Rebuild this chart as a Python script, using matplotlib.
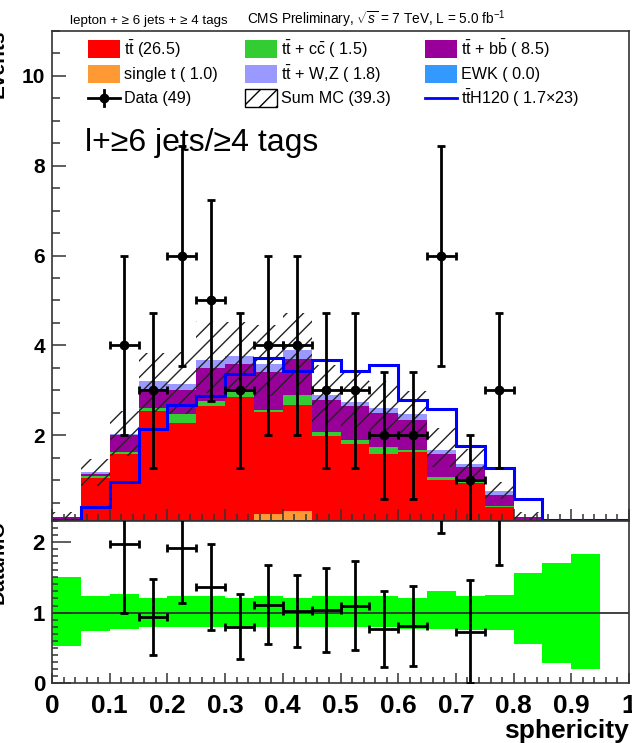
import numpy as np
import matplotlib
matplotlib.use('Agg')
import matplotlib.pyplot as plt
from matplotlib.patches import Rectangle
from matplotlib.lines import Line2D
from matplotlib.ticker import MultipleLocator

plt.rcParams['font.family'] = ['Liberation Sans', 'DejaVu Sans']
plt.rcParams['mathtext.fontset'] = 'custom'
plt.rcParams['mathtext.rm'] = 'Liberation Sans'
plt.rcParams['mathtext.it'] = 'Liberation Sans:italic'
plt.rcParams['mathtext.bf'] = 'Liberation Sans:bold'
plt.rcParams['hatch.linewidth'] = 1.0

# ---------------- data ----------------
bin_edges = [0.00, 0.05, 0.10, 0.15, 0.20, 0.25, 0.30, 0.35, 0.40, 0.45, 0.50,
             0.55, 0.60, 0.65, 0.70, 0.75, 0.80, 0.85, 0.90, 0.95, 1.00]
ewk      = [0.00] * 20
single_t = [0.00, 0.01, 0.02, 0.10, 0.03, 0.04, 0.05, 0.25, 0.32, 0.05,
            0.04, 0.02, 0.03, 0.01, 0.00, 0.00, 0.00, 0.00, 0.00, 0.00]
ttbar    = [0.12, 1.04, 1.57, 2.43, 2.24, 2.60, 2.79, 2.27, 2.35, 1.93,
            1.76, 1.57, 1.60, 0.99, 0.93, 0.41, 0.08, 0.02, 0.01, 0.00]
ttcc     = [0.01, 0.05, 0.03, 0.08, 0.20, 0.12, 0.12, 0.05, 0.22, 0.09,
            0.09, 0.15, 0.05, 0.07, 0.03, 0.02, 0.01, 0.00, 0.00, 0.00]
ttbb     = [0.05, 0.03, 0.38, 0.43, 0.53, 0.74, 0.63, 0.84, 0.81, 0.71,
            0.75, 0.76, 0.65, 0.52, 0.34, 0.24, 0.08, 0.02, 0.01, 0.00]
ttV      = [0.01, 0.05, 0.02, 0.16, 0.13, 0.17, 0.17, 0.18, 0.20, 0.11,
            0.10, 0.11, 0.15, 0.08, 0.07, 0.09, 0.02, 0.00, 0.00, 0.00]
tth_x23  = [0.00, 0.41, 0.95, 2.13, 2.68, 2.87, 3.37, 3.73, 3.43, 3.67,
            3.44, 3.56, 2.79, 2.58, 1.76, 1.27, 0.57, 0.00, 0.00, 0.00]
data     = [0, 0, 4, 3, 6, 5, 3, 4, 4, 3, 3, 2, 2, 6, 1, 3, 0, 0, 0, 0]
mc_err_up = [0.50, 0.24, 0.26, 0.20, 0.23, 0.24, 0.20, 0.24, 0.21, 0.23,
             0.24, 0.23, 0.20, 0.30, 0.23, 0.25, 0.56, 0.71, 0.83, 0.00]
mc_err_dn = [0.47, 0.26, 0.24, 0.21, 0.21, 0.20, 0.20, 0.20, 0.21, 0.21,
             0.21, 0.20, 0.23, 0.23, 0.25, 0.25, 0.44, 0.71, 0.80, 0.00]

x_ticks = [0, 0.1, 0.2, 0.3, 0.4, 0.5, 0.6, 0.7, 0.8, 0.9, 1]
x_tick_labels = ['0', '0.1', '0.2', '0.3', '0.4', '0.5', '0.6', '0.7', '0.8', '0.9', '1']

components = [
    ('EWK', ewk, '#3399FF'),
    ('single t', single_t, '#FF9933'),
    ('ttbar', ttbar, '#FF0000'),
    ('ttcc', ttcc, '#33CC33'),
    ('ttbb', ttbb, '#990099'),
    ('ttV', ttV, '#9999FF'),
]

W, H = 632, 743
def fx(px):
    return px / W
def fy(py):
    return 1 - py / H

fig = plt.figure(figsize=(W / 100, H / 100), dpi=100)
ax1 = fig.add_axes([fx(52), fy(521), fx(629) - fx(52), fy(31) - fy(521)])
ax2 = fig.add_axes([fx(52), fy(683), fx(629) - fx(52), fy(521) - fy(683)])

edges = np.array(bin_edges)
centers = 0.5 * (edges[:-1] + edges[1:])
half_w = 0.5 * (edges[1:] - edges[:-1])
ylo, yhi = 0.09, 11.0

# ---------------- main panel ----------------
base = np.zeros(20)
for name, vals, col in components:
    v = np.array(vals)
    if v.sum() > 0:
        ax1.stairs(base + v, edges, baseline=base.copy(), fill=True,
                   color=col, linewidth=0)
    base = base + v
total = base.copy()

up = np.array(mc_err_up)
dn = np.array(mc_err_dn)
ax1.stairs(total * (1 + up), edges, baseline=total * (1 - dn), fill=True,
           facecolor='none', edgecolor='#222222', hatch='//', linewidth=0)

ax1.stairs(np.maximum(np.array(tth_x23), ylo + 0.02), edges,
           baseline=ylo + 0.02, color='#0000FF', linewidth=2.2)

d = np.array(data, dtype=float)
m = d > 0
ax1.errorbar(centers[m], d[m], xerr=half_w[m], yerr=np.sqrt(d[m]), fmt='o',
             color='black', ms=6, elinewidth=2, capsize=3, capthick=2, zorder=5)

ax1.set_xlim(0, 1)
ax1.set_ylim(ylo, yhi)
ax1.yaxis.set_major_locator(MultipleLocator(2))
ax1.yaxis.set_minor_locator(MultipleLocator(0.5))
ax1.xaxis.set_major_locator(MultipleLocator(0.1))
ax1.xaxis.set_minor_locator(MultipleLocator(0.02))
ax1.tick_params(axis='both', which='both', direction='in', top=False, right=False,
                colors='#333333', width=1.1)
ax1.tick_params(axis='y', which='major', length=10, pad=5)
ax1.tick_params(axis='y', which='minor', length=6)
ax1.tick_params(axis='x', which='major', length=9)
ax1.tick_params(axis='x', which='minor', length=5)
ax1.tick_params(axis='x', labelbottom=False)
for lab in ax1.get_yticklabels():
    lab.set_fontsize(15)
    lab.set_fontweight('bold')
    lab.set_color('black')
for s in ax1.spines.values():
    s.set_color('#333333')
    s.set_linewidth(1.2)

# ---------------- ratio panel ----------------
mcm = total > 0
bm = mcm & (up + dn > 0)
ax2.bar(centers[bm], (up + dn)[bm], width=0.05, bottom=(1 - dn)[bm],
        color='#00FF00', linewidth=0)
ax2.axhline(1.0, color='#333333', linewidth=1.3)
rm = m & mcm
ax2.errorbar(centers[rm], d[rm] / total[rm], xerr=half_w[rm],
             yerr=np.sqrt(d[rm]) / total[rm], fmt='none', ecolor='black',
             elinewidth=2, capsize=3, capthick=2, zorder=5)
ax2.set_xlim(0, 1)
ax2.set_ylim(0, 2.3)
ax2.set_xticks(x_ticks)
ax2.set_xticklabels(x_tick_labels)
ax2.xaxis.set_minor_locator(MultipleLocator(0.02))
ax2.yaxis.set_major_locator(MultipleLocator(1))
ax2.yaxis.set_minor_locator(MultipleLocator(0.1))
ax2.tick_params(axis='both', which='both', direction='in', top=False, right=False,
                colors='#333333', width=1.1)
ax2.tick_params(axis='y', which='major', length=14, pad=5)
ax2.tick_params(axis='y', which='minor', length=4)
ax2.tick_params(axis='x', which='major', length=7, pad=8)
ax2.tick_params(axis='x', which='minor', length=4)
for lab in ax2.get_yticklabels():
    lab.set_fontsize(16)
    lab.set_fontweight('bold')
    lab.set_color('black')
for lab in ax2.get_xticklabels():
    lab.set_fontsize(19)
    lab.set_fontweight('bold')
    lab.set_color('black')
for s in ax2.spines.values():
    s.set_color('#333333')
    s.set_linewidth(1.2)

# ---------------- texts ----------------
fig.text(fx(629), fy(738), 'sphericity', ha='right', va='baseline',
         fontsize=19, fontweight='bold')
fig.text(fx(8), fy(30), 'Events', rotation=90, ha='right', va='top',
         fontsize=15, fontweight='bold')
fig.text(fx(8), fy(520), 'Data/MC', rotation=90, ha='right', va='top',
         fontsize=15, fontweight='bold')
fig.text(fx(70), fy(24), 'lepton + ≥ 6 jets + ≥ 4 tags', ha='left',
         va='baseline', fontsize=9.6)
fig.text(fx(247), fy(24), r'CMS Preliminary, $\sqrt{s}$ = 7 TeV, L = 5.0 fb$^{-1}$',
         ha='left', va='baseline', fontsize=9.8)
fig.text(fx(85), fy(151), 'l+≥6 jets/≥4 tags', ha='left', va='baseline',
         fontsize=23)

# ---------------- legend ----------------
tt = r'$\mathrm{t\bar{t}}$'
rows = [49, 74, 98]
cols = [88, 245, 425]
bw, bh = 32, 18
lfs = 11.6
fill_entries = [
    (0, 0, tt + ' (26.5)', '#FF0000'),
    (0, 1, tt + r' + $\mathrm{c\bar{c}}$ ( 1.5)', '#33CC33'),
    (0, 2, tt + r' + $\mathrm{b\bar{b}}$ ( 8.5)', '#990099'),
    (1, 0, 'single t ( 1.0)', '#FF9933'),
    (1, 1, tt + ' + W,Z ( 1.8)', '#9999FF'),
    (1, 2, 'EWK ( 0.0)', '#3399FF'),
]
for r, c, label, col in fill_entries:
    fig.add_artist(Rectangle((fx(cols[c]), fy(rows[r] + bh / 2)), bw / W, bh / H,
                             transform=fig.transFigure, facecolor=col,
                             edgecolor='none'))
    fig.text(fx(cols[c] + 36), fy(rows[r]), label, ha='left', va='center',
             fontsize=lfs)
# Data entry
y3 = rows[2]
fig.add_artist(Line2D([fx(cols[0]), fx(cols[0] + bw)], [fy(y3), fy(y3)],
                      transform=fig.transFigure, color='black', lw=2))
fig.add_artist(Line2D([fx(cols[0] + bw / 2)] * 2, [fy(y3 - 8), fy(y3 + 8)],
                      transform=fig.transFigure, color='black', lw=2))
fig.add_artist(Line2D([fx(cols[0] + bw / 2)], [fy(y3)], marker='o', ms=6,
                      transform=fig.transFigure, color='black'))
fig.text(fx(cols[0] + 36), fy(y3), 'Data (49)', ha='left', va='center', fontsize=lfs)
# Sum MC entry
fig.add_artist(Rectangle((fx(cols[1]), fy(y3 + bh / 2)), bw / W, bh / H,
                         transform=fig.transFigure, facecolor='none',
                         edgecolor='black', hatch='//', linewidth=1))
fig.text(fx(cols[1] + 36), fy(y3), 'Sum MC (39.3)', ha='left', va='center', fontsize=lfs)
# ttH entry
fig.add_artist(Line2D([fx(cols[2]), fx(cols[2] + bw)], [fy(y3), fy(y3)],
                      transform=fig.transFigure, color='#0000FF', lw=2))
fig.text(fx(cols[2] + 36), fy(y3), tt + 'H120 ( 1.7×23)', ha='left', va='center',
         fontsize=lfs)

fig.savefig('out.png', dpi=100)
